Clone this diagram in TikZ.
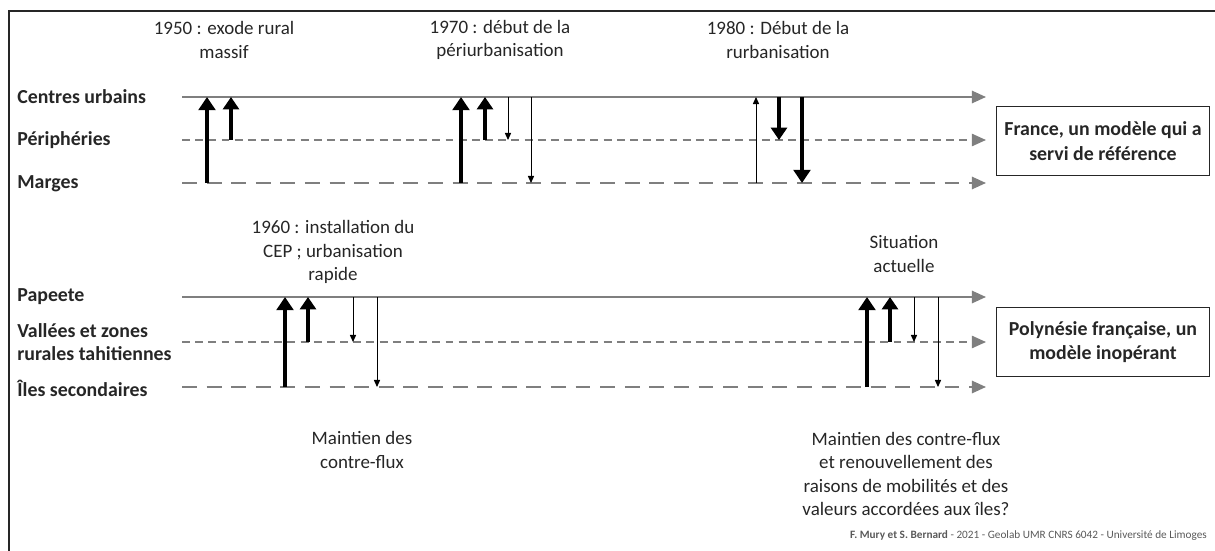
\documentclass[tikz,border=0pt]{standalone}
\usepackage{fontspec}
\setmainfont{Carlito}
\usepackage{tikz}
\usetikzlibrary{arrows.meta,positioning,calc}
\definecolor{axisgrey}{HTML}{7F7F7F}
\definecolor{inkdark}{HTML}{262626}
\definecolor{footgrey}{HTML}{595959}

\begin{document}
\begin{tikzpicture}[x=0.02cm, y=-0.02cm,
  solidaxis/.style={axisgrey, line width=1.1pt, -{Triangle[width=7pt,length=8pt]}},
  shortaxis/.style={axisgrey, line width=0.85pt, dash pattern=on 4.5pt off 3pt, -{Triangle[width=7pt,length=8pt]}},
  longaxis/.style={axisgrey, line width=1.1pt, dash pattern=on 8.5pt off 5.5pt, -{Triangle[width=7pt,length=8pt]}},
  bigflow/.style={black, line width=2.3pt, -{Triangle[width=9.5pt,length=7.5pt]}},
  midflow/.style={black, line width=1.8pt, -{Triangle[width=9pt,length=7pt]}},
  thinflow/.style={black, line width=0.55pt, -{Triangle[width=3.5pt,length=4pt]}},
  lvl/.style={anchor=west, inner xsep=0pt, text=inkdark, font=\fontsize{11.3}{13.5}\selectfont\bfseries, align=left},
  note/.style={text=inkdark, font=\fontsize{10.8}{13.3}\selectfont, align=center},
  modelbox/.style={draw=inkdark, line width=0.6pt, text=inkdark, font=\fontsize{11.3}{14}\selectfont\bfseries, align=center, minimum width=4.26cm, minimum height=1.38cm, inner sep=2pt}]
\useasboundingbox (0,0) rectangle (1215,551);
% Frame (top and left edges only)
\draw[inkdark, line width=0.9pt] (9,551) -- (9,11) -- (1215,11);
% France: levels
\coordinate (cuS) at (182,97);  \coordinate (cuE) at (986,97);
\coordinate (peS) at (182,140); \coordinate (peE) at (986,140);
\coordinate (mgS) at (182,183); \coordinate (mgE) at (986,183);
\node[lvl] (cu) at (17,97) {Centres urbains};
\node[lvl] (pe) at (17,140) {Périphéries};
\node[lvl] (mg) at (17,184) {Marges};
\draw[solidaxis] (cuS) -- (cuE);
\draw[shortaxis] (peS) -- (peE);
\draw[longaxis] (mgS) -- (mgE);
% France: dates
\node[note] (d1950) at (224,40) {1950 : exode rural\\massif};
\node[note] (d1970) at (500,40) {1970 : début de la\\périurbanisation};
\node[note] (d1980) at (778,40) {1980 : Début de la\\rurbanisation};
% France: flows
\draw[bigflow] (207,0 |- mgS) -- (207,0 |- cuS);
\draw[midflow] (231,0 |- peS) -- (231,0 |- cuS);
\draw[bigflow] (461,0 |- mgS) -- (461,0 |- cuS);
\draw[midflow] (485,0 |- peS) -- (485,0 |- cuS);
\draw[thinflow] (508,0 |- cuS) -- (508,0 |- peS);
\draw[thinflow] (531,0 |- cuS) -- (531,0 |- mgS);
\draw[thinflow] (756,0 |- mgS) -- (756,0 |- cuS);
\draw[midflow] (779,0 |- cuS) -- (779,0 |- peS);
\draw[bigflow] (802,0 |- cuS) -- (802,0 |- mgS);
\node[modelbox] (france) at (1103,141) {France, un modèle qui a\\servi de référence};
% Polynesie: levels
\coordinate (paS) at (182,297); \coordinate (paE) at (986,297);
\coordinate (vaS) at (182,342); \coordinate (vaE) at (986,342);
\coordinate (isS) at (182,387); \coordinate (isE) at (986,387);
\node[lvl] (pa) at (17,297) {Papeete};
\node[lvl] (va) at (17,342) {Vallées et zones\\rurales tahitiennes};
\node[lvl] (is) at (17,388) {Îles secondaires};
\draw[solidaxis] (paS) -- (paE);
\draw[shortaxis] (vaS) -- (vaE);
\draw[longaxis] (isS) -- (isE);
% Polynesie: dates and comments
\node[note] (d1960) at (333,252) {1960 : installation du\\CEP ; urbanisation\\rapide};
\node[note] (today) at (904,254) {Situation\\actuelle};
\node[note] (keep) at (362,450) {Maintien des\\contre-flux};
\node[note] (renew) at (906,474) {Maintien des contre-flux\\et renouvellement des\\raisons de mobilités et des\\valeurs accordées aux îles?};
% Polynesie: flows
\draw[bigflow] (285,0 |- isS) -- (285,0 |- paS);
\draw[midflow] (308,0 |- vaS) -- (308,0 |- paS);
\draw[thinflow] (353,0 |- paS) -- (353,0 |- vaS);
\draw[thinflow] (377,0 |- paS) -- (377,0 |- isS);
\draw[bigflow] (867,0 |- isS) -- (867,0 |- paS);
\draw[midflow] (890,0 |- vaS) -- (890,0 |- paS);
\draw[thinflow] (914,0 |- paS) -- (914,0 |- vaS);
\draw[thinflow] (938,0 |- paS) -- (938,0 |- isS);
\node[modelbox] (polyn) at (1103,342) {Polynésie française, un\\modèle inopérant};
% Credits
\node[anchor=east, text=footgrey, font=\fontsize{6.4}{8}\selectfont] (credit) at (1213,536) {\textbf{F. Mury et S. Bernard} - 2021 - Geolab UMR CNRS 6042 - Université de Limoges};
\end{tikzpicture}
\end{document}
